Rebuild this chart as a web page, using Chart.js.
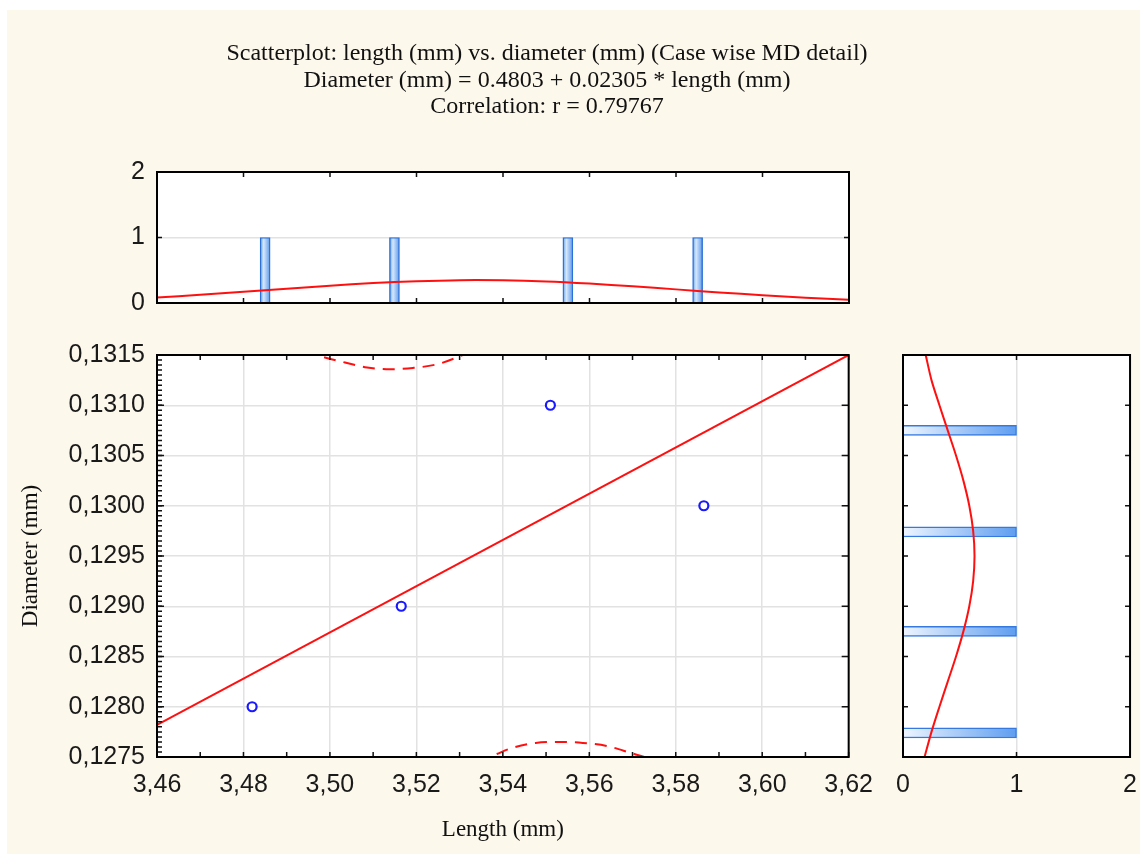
<!DOCTYPE html>
<html>
<head>
<meta charset="utf-8">
<title>Scatterplot: length (mm) vs. diameter (mm)</title>
<script src="https://cdn.jsdelivr.net/npm/chart.js@4.4.0/dist/chart.umd.min.js"></script>
<style>
  html, body { margin: 0; padding: 0; background: #fff; }
  body { width: 1140px; height: 854px; position: relative; overflow: hidden; }
  #sheet { position: absolute; left: 7px; top: 10px; right: 0; bottom: 0; background: #fdf8ec; }
  .box { position: absolute; }
</style>
</head>
<body>
<div id="sheet"></div>
<div class="box" style="left:0;top:0;width:1094px;height:330px"><canvas id="topHist"></canvas></div>
<div class="box" style="left:0;top:328px;width:886px;height:526px"><canvas id="scatter"></canvas></div>
<div class="box" style="left:880px;top:330px;width:270px;height:524px"><canvas id="sideHist"></canvas></div>
<script>
// cases
var lengthMm = [3.482, 3.5165, 3.551, 3.5865];
var diameterMm = [0.1280, 0.1290, 0.1310, 0.1300];

// fitted line and the 95% bands (only the parts that show)
var fitLength = [3.46, 3.62];
var fitDiameter = [0.12782, 0.13150];
var upperBandLength = [3.490, 3.497, 3.5035, 3.5086, 3.5139, 3.5192, 3.525, 3.5307, 3.538];
var upperBandDiameter = [0.13162, 0.13150, 0.131425, 0.131376, 0.131358, 0.131371, 0.13141, 0.13150, 0.13164];
var lowerBandLength = [3.530, 3.5358, 3.5386, 3.5421, 3.5476, 3.5534, 3.5585, 3.564, 3.5696, 3.574, 3.578];
var lowerBandDiameter = [0.12738, 0.12748, 0.12753, 0.12759, 0.12764, 0.12765, 0.12764, 0.12761, 0.12754, 0.12748, 0.12740];

// histogram of length (top)
var lengthBins = [3.485, 3.5149, 3.555, 3.585];
var lengthCounts = [1, 1, 1, 1];
var lengthCurveX = [3.46, 3.47, 3.48, 3.49, 3.50, 3.51, 3.52, 3.53, 3.54, 3.55, 3.56, 3.57, 3.58, 3.59, 3.60, 3.61, 3.62];
var lengthCurveCount = [0.085, 0.125, 0.170, 0.217, 0.263, 0.304, 0.333, 0.349, 0.347, 0.329, 0.296, 0.254, 0.208, 0.161, 0.119, 0.082, 0.048];

// histogram of diameter (right)
var diameterBins = [0.13075, 0.12974, 0.12875, 0.12774];
var diameterCounts = [1, 1, 1, 1];
var diameterCurveY = [0.1275, 0.12775, 0.1280, 0.12825, 0.1285, 0.12875, 0.1290, 0.12925, 0.1295,
                      0.12975, 0.1300, 0.13025, 0.1305, 0.13075, 0.1310, 0.13125, 0.1315];
var diameterCurveCount = [0.190, 0.251, 0.321, 0.394, 0.467, 0.532, 0.584, 0.618, 0.630,
                          0.618, 0.584, 0.532, 0.467, 0.394, 0.321, 0.251, 0.200];

var titleLines = ['Scatterplot: length (mm) vs. diameter (mm) (Case wise MD detail)',
                  'Diameter (mm) = 0.4803 + 0.02305 * length (mm)',
                  'Correlation: r = 0.79767'];

var SANS = 'Liberation Sans, Arial, sans-serif';
var SERIF = 'Liberation Serif, Times New Roman, serif';
var RED = '#ff1010';

function xy(xs, ys) {
    return xs.map(function(x, i) { return {x: x, y: ys[i]}; });
}

function comma(v, d) {
    return v.toFixed(d).replace('.', ',');
}

/*
  plotFrame: white plot area, black frame and the little inward ticks
  that Statistica puts on every side.
*/
var plotFrame = {
    id: 'plotFrame',
    beforeDraw: function(chart) {
        var a = chart.chartArea, ctx = chart.ctx;
        ctx.save();
        ctx.fillStyle = '#fff';
        ctx.fillRect(a.left, a.top, a.right - a.left, a.bottom - a.top);
        ctx.restore();
    },
    afterDatasetsDraw: function(chart, args, opts) {
        var a = chart.chartArea, ctx = chart.ctx;
        ctx.save();
        ctx.strokeStyle = '#111';
        ctx.lineWidth = 1.5;
        (opts.ticks || []).forEach(function(t) {
            var s = chart.scales[t.axis];
            var n = Math.round((s.max - s.min) / t.step);
            ctx.beginPath();
            for (var i = 0; i <= n; i++) {
                var p = s.getPixelForValue(s.min + i * t.step);
                if (s.isHorizontal()) {
                    if (t.sides.indexOf('t') >= 0) { ctx.moveTo(p, a.top); ctx.lineTo(p, a.top + t.len); }
                    if (t.sides.indexOf('b') >= 0) { ctx.moveTo(p, a.bottom); ctx.lineTo(p, a.bottom - t.len); }
                } else {
                    if (t.sides.indexOf('l') >= 0) { ctx.moveTo(a.left, p); ctx.lineTo(a.left + t.len, p); }
                    if (t.sides.indexOf('r') >= 0) { ctx.moveTo(a.right, p); ctx.lineTo(a.right - t.len, p); }
                }
            }
            ctx.stroke();
        });
        ctx.strokeStyle = '#000';
        ctx.lineWidth = 2;
        ctx.strokeRect(a.left, a.top, a.right - a.left, a.bottom - a.top);
        ctx.restore();
    }
};

Chart.defaults.animation = false;
Chart.defaults.events = [];
Chart.defaults.plugins.legend.display = false;
Chart.defaults.plugins.tooltip.enabled = false;
Chart.defaults.color = '#1a1a1a';

var tickFont = {family: SANS, size: 25};
var titleFont = {family: SERIF, size: 24, weight: 'normal', lineHeight: 1.1};
var axisTitleFont = {family: SERIF, size: 23, weight: 'normal', lineHeight: 1.15};

// ---------- top histogram (with the chart title) ----------
new Chart(document.getElementById('topHist'), {
    type: 'bar',
    data: {
        datasets: [{
            type: 'line',
            data: xy(lengthCurveX, lengthCurveCount),
            borderColor: RED,
            borderWidth: 2,
            pointRadius: 0,
            tension: 0.3
        }, {
            data: xy(lengthBins, lengthCounts),
            barThickness: 10,
            borderWidth: 1.4,
            borderColor: '#2b6fd8',
            backgroundColor: function(c) {
                var s = c.chart.scales.x;
                if (c.type !== 'data' || !s || !c.parsed) return '#9cc6f4';
                var px = s.getPixelForValue(c.parsed.x);
                if (!isFinite(px)) return '#9cc6f4';
                var g = c.chart.ctx.createLinearGradient(px - 5, 0, px + 5, 0);
                g.addColorStop(0, '#5e9ff0');
                g.addColorStop(0.35, '#d6e8fd');
                g.addColorStop(1, '#5b98ea');
                return g;
            }
        }]
    },
    options: {
        responsive: true,
        maintainAspectRatio: false,
        layout: {padding: 0},
        scales: {
            x: {
                type: 'linear', min: 3.46, max: 3.62, offset: false,
                display: false, grid: {offset: false}
            },
            y: {
                min: 0, max: 2,
                ticks: {stepSize: 1, font: tickFont, padding: 12},
                grid: {color: '#e2e2e2', lineWidth: 1.5, drawTicks: false},
                border: {display: false},
                afterFit: function(s) { s.width = 157; }
            },
            pad: {
                type: 'linear', position: 'right',
                ticks: {display: false}, grid: {display: false}, border: {display: false},
                afterFit: function(s) { s.width = 245; }
            }
        },
        plugins: {
            title: {
                display: true,
                text: titleLines,
                font: titleFont,
                color: '#111',
                padding: {top: 41, bottom: 51.8}
            },
            plotFrame: {
                ticks: [{axis: 'x', step: 0.02, len: 5, sides: 'tb'},
                        {axis: 'y', step: 1, len: 5, sides: 'lr'}]
            }
        }
    },
    plugins: [plotFrame]
});

// ---------- main scatterplot ----------
new Chart(document.getElementById('scatter'), {
    type: 'scatter',
    data: {
        datasets: [{
            data: xy(lengthMm, diameterMm),
            pointStyle: 'circle',
            pointRadius: 4.5,
            borderWidth: 2.2,
            borderColor: '#1a1aff',
            backgroundColor: '#fff'
        }, {
            data: xy(fitLength, fitDiameter),
            showLine: true,
            borderColor: RED,
            borderWidth: 2,
            pointRadius: 0
        }, {
            data: xy(upperBandLength, upperBandDiameter),
            showLine: true,
            borderColor: RED,
            borderWidth: 2,
            borderDash: [12, 8],
            pointRadius: 0,
            cubicInterpolationMode: 'monotone'
        }, {
            data: xy(lowerBandLength, lowerBandDiameter),
            showLine: true,
            borderColor: RED,
            borderWidth: 2,
            borderDash: [12, 8],
            pointRadius: 0,
            cubicInterpolationMode: 'monotone'
        }]
    },
    options: {
        responsive: true,
        maintainAspectRatio: false,
        layout: {padding: 0},
        scales: {
            x: {
                type: 'linear', min: 3.46, max: 3.62,
                ticks: {stepSize: 0.02, font: tickFont, padding: 13,
                        callback: function(v) { return comma(v, 2); }},
                grid: {color: '#e2e2e2', lineWidth: 1.5, drawTicks: false},
                border: {display: false},
                title: {display: true, text: 'Length (mm)', font: axisTitleFont, color: '#111',
                        padding: {top: 0, bottom: 11}},
                afterFit: function(s) { s.height = 97; }
            },
            y: {
                min: 0.1275, max: 0.1315,
                ticks: {stepSize: 0.0005, font: tickFont, padding: 12,
                        callback: function(v) { return comma(v, 4); }},
                grid: {color: '#e2e2e2', lineWidth: 1.5, drawTicks: false},
                border: {display: false},
                title: {display: true, text: 'Diameter (mm)', font: axisTitleFont, color: '#111',
                        padding: {top: 18, bottom: 0}},
                afterFit: function(s) { s.width = 157; }
            }
        },
        plugins: {
            plotFrame: {
                ticks: [{axis: 'x', step: 0.01, len: 5, sides: 'tb'},
                        {axis: 'y', step: 0.00005, len: 5, sides: 'l'},
                        {axis: 'y', step: 0.0005, len: 7, sides: 'lr'}]
            }
        }
    },
    plugins: [plotFrame]
});

// ---------- right histogram ----------
new Chart(document.getElementById('sideHist'), {
    type: 'bar',
    data: {
        datasets: [{
            type: 'line',
            data: xy(diameterCurveCount, diameterCurveY),
            borderColor: RED,
            borderWidth: 2,
            pointRadius: 0,
            tension: 0.3
        }, {
            data: xy(diameterCounts, diameterBins),
            barThickness: 10,
            borderWidth: 1.4,
            borderColor: '#3579df',
            backgroundColor: function(c) {
                var s = c.chart.scales.x;
                if (!s || !isFinite(s.getPixelForValue(0))) return '#9cc6f4';
                var g = c.chart.ctx.createLinearGradient(s.getPixelForValue(0), 0, s.getPixelForValue(1), 0);
                g.addColorStop(0, '#eef5ff');
                g.addColorStop(1, '#5e9df0');
                return g;
            }
        }]
    },
    options: {
        indexAxis: 'y',
        responsive: true,
        maintainAspectRatio: false,
        layout: {padding: {left: 23, right: 0, top: 25, bottom: 0}},
        scales: {
            x: {
                type: 'linear', min: 0, max: 2,
                ticks: {stepSize: 1, font: tickFont, padding: 13},
                grid: {color: '#e2e2e2', lineWidth: 1.5, drawTicks: false},
                border: {display: false},
                afterFit: function(s) { s.height = 97; }
            },
            y: {
                type: 'linear', min: 0.1275, max: 0.1315, offset: false,
                display: false, grid: {offset: false}
            }
        },
        plugins: {
            plotFrame: {
                ticks: [{axis: 'x', step: 1, len: 5, sides: 'tb'},
                        {axis: 'y', step: 0.0005, len: 5, sides: 'lr'}]
            }
        }
    },
    plugins: [plotFrame]
});
</script>
</body>
</html>
